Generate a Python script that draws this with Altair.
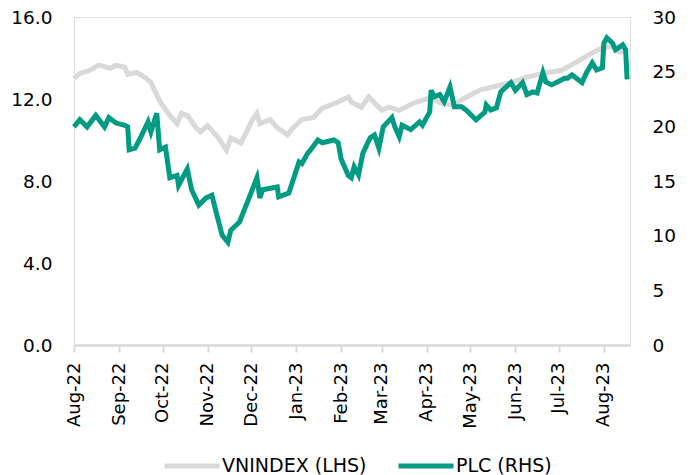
import altair as alt
import pandas as pd

# VNINDEX (left axis, thousand points)
vn_dates = ["2022-08-01","2022-08-05","2022-08-12","2022-08-18","2022-08-26","2022-08-30","2022-09-05","2022-09-07",
            "2022-09-13","2022-09-19","2022-09-23","2022-09-27","2022-09-30","2022-10-06","2022-10-11","2022-10-14",
            "2022-10-18","2022-10-21","2022-10-24","2022-10-27","2022-11-01","2022-11-08","2022-11-14","2022-11-17",
            "2022-11-24","2022-12-02","2022-12-05","2022-12-07","2022-12-14","2022-12-19","2022-12-26","2022-12-30",
            "2023-01-05","2023-01-13","2023-01-19","2023-01-30","2023-02-06","2023-02-08","2023-02-15","2023-02-20",
            "2023-03-01","2023-03-06","2023-03-13","2023-03-23","2023-04-03","2023-04-11","2023-04-19","2023-04-26",
            "2023-05-08","2023-05-17","2023-05-29","2023-06-08","2023-06-20","2023-07-03","2023-07-13","2023-07-24",
            "2023-07-31","2023-08-07","2023-08-11","2023-08-17"]
vn_values = [13.0, 13.25, 13.4, 13.65, 13.5, 13.65, 13.55, 13.2,
             13.3, 13.05, 12.8, 12.2, 11.8, 11.2, 10.8, 11.3,
             11.2, 10.9, 10.6, 10.4, 10.7, 10.15, 9.5, 10.1,
             9.85, 11.0, 11.3, 10.8, 11.0, 10.6, 10.25, 10.6,
             11.0, 11.1, 11.55, 11.85, 12.1, 11.85, 11.6, 12.1,
             11.45, 11.6, 11.45, 11.8, 12.05, 11.8, 11.7, 12.0,
             12.45, 12.6, 12.8, 13.05, 13.25, 13.4, 13.8, 14.25,
             14.5, 14.55, 14.3, 14.3]

# PLC (right axis, VND thousand)
plc_dates = ["2022-08-01","2022-08-05","2022-08-10","2022-08-16","2022-08-22","2022-08-25","2022-08-30","2022-09-05",
             "2022-09-07","2022-09-08","2022-09-12","2022-09-15","2022-09-21","2022-09-23","2022-09-27","2022-09-29",
             "2022-10-03","2022-10-06","2022-10-11","2022-10-12","2022-10-18","2022-10-21","2022-10-26","2022-10-31",
             "2022-11-04","2022-11-07","2022-11-11","2022-11-15","2022-11-17","2022-11-23","2022-11-29","2022-12-05",
             "2022-12-07","2022-12-09","2022-12-19","2022-12-20","2022-12-27","2023-01-03","2023-01-05","2023-01-09",
             "2023-01-11","2023-01-16","2023-01-19","2023-01-27","2023-01-30","2023-02-01","2023-02-06","2023-02-08",
             "2023-02-10","2023-02-13","2023-02-16","2023-02-21","2023-02-24","2023-02-27","2023-03-02","2023-03-08",
             "2023-03-10","2023-03-13","2023-03-15","2023-03-21","2023-03-27","2023-03-29","2023-04-03","2023-04-04",
             "2023-04-06","2023-04-10","2023-04-13","2023-04-17","2023-04-20","2023-04-25","2023-04-28","2023-05-05",
             "2023-05-11","2023-05-12","2023-05-15","2023-05-19","2023-05-22","2023-05-29","2023-06-01","2023-06-06",
             "2023-06-09","2023-06-13","2023-06-16","2023-06-20","2023-06-22","2023-06-26","2023-06-30","2023-07-05",
             "2023-07-07","2023-07-10","2023-07-17","2023-07-20","2023-07-24","2023-07-27","2023-07-31","2023-08-01",
             "2023-08-03","2023-08-07","2023-08-09","2023-08-14","2023-08-16","2023-08-17"]
plc_values = [19.95, 20.6, 19.95, 21.0, 19.95, 20.8, 20.3, 20.1,
              19.95, 17.85, 18.0, 18.75, 20.4, 19.5, 21.2, 17.85,
              18.1, 15.3, 15.5, 14.6, 16.1, 14.2, 12.8, 13.45,
              13.7, 12.1, 10.05, 9.4, 10.5, 11.25, 13.25, 15.3,
              13.45, 14.2, 14.45, 13.55, 13.9, 16.75, 16.6, 17.55,
              17.85, 18.75, 18.5, 18.75, 18.5, 17.0, 15.5, 15.3,
              16.3, 15.55, 17.55, 18.95, 19.2, 18.0, 19.95, 20.8,
              19.95, 19.05, 20.1, 19.7, 20.4, 20.1, 21.3, 23.3,
              22.7, 22.9, 22.25, 23.6, 21.8, 21.8, 21.5, 20.6,
              21.3, 21.95, 21.5, 21.7, 23.15, 24.0, 23.3, 24.0,
              22.9, 23.15, 23.05, 24.9, 24.05, 23.8, 24.05, 24.4,
              24.4, 24.7, 24.0, 24.9, 25.8, 25.15, 25.35, 27.6,
              28.1, 27.6, 27.0, 27.45, 27.0, 24.3]

series_names = ["VNINDEX (LHS)", "PLC (RHS)"]
series_colors = ["#D9D9D9", "#009B82"]
left_ticks = [0, 4, 8, 12, 16]
right_ticks = [0, 5, 10, 15, 20, 25, 30]

vn_df = pd.DataFrame({"date": vn_dates, "value": vn_values, "series": series_names[0]})
plc_df = pd.DataFrame({"date": plc_dates, "value": plc_values, "series": series_names[1]})

FONT = "DejaVu Sans"

month_ticks = [alt.DateTime(year=2022 + (7 + i) // 12, month=(7 + i) % 12 + 1, date=1, utc=True) for i in range(13)]

x_enc = alt.X(
    "date:T",
    scale=alt.Scale(type="utc", domain=[alt.DateTime(year=2022, month=8, date=1, utc=True),
                                        alt.DateTime(year=2023, month=8, date=19, utc=True)]),
    axis=alt.Axis(values=month_ticks, format="%b-%y", labelAngle=-90, title=None,
                  domainColor="#D9D9D9", domainWidth=2.5, tickColor="#D9D9D9", tickWidth=2,
                  tickSize=7, labelPadding=10, labelFontSize=18, labelColor="#000000", grid=False),
)

color_enc = alt.Color("series:N", scale=alt.Scale(domain=series_names, range=series_colors),
                      legend=alt.Legend(title=None, orient="none", legendX=88, legendY=419,
                                        direction="horizontal", symbolType="stroke",
                                        symbolSize=3025, symbolStrokeWidth=5, labelFontSize=19,
                                        labelColor="#000000", columnPadding=21, labelOffset=0))

vn_line = alt.Chart(vn_df).mark_line(strokeWidth=5, interpolate="linear").encode(
    x=x_enc,
    y=alt.Y("value:Q", scale=alt.Scale(domain=[0, 16]),
            axis=alt.Axis(values=left_ticks, format=".1f", orient="left", title=None, domain=False,
                          ticks=False, tickSize=0, labelPadding=22, labelFontSize=18.5,
                          labelColor="#000000", grid=False)),
    color=color_enc,
)

plc_line = alt.Chart(plc_df).mark_line(strokeWidth=5, interpolate="linear").encode(
    x=x_enc,
    y=alt.Y("value:Q", scale=alt.Scale(domain=[0, 30]),
            axis=alt.Axis(values=right_ticks, format="d", orient="right", title=None, domain=False,
                          ticks=False, tickSize=0, labelPadding=22, labelFontSize=18.5,
                          labelColor="#000000", grid=False)),
    color=color_enc,
)

chart = alt.layer(vn_line, plc_line).resolve_scale(y="independent").properties(
    width=556, height=328,
    autosize=alt.AutoSizeParams(type="none"),
    padding={"left": 66, "top": 9, "right": 53, "bottom": 130},
).configure_view(stroke=None).configure(font=FONT)

chart.save("out.html", embed_options={"renderer": "svg", "actions": False})
